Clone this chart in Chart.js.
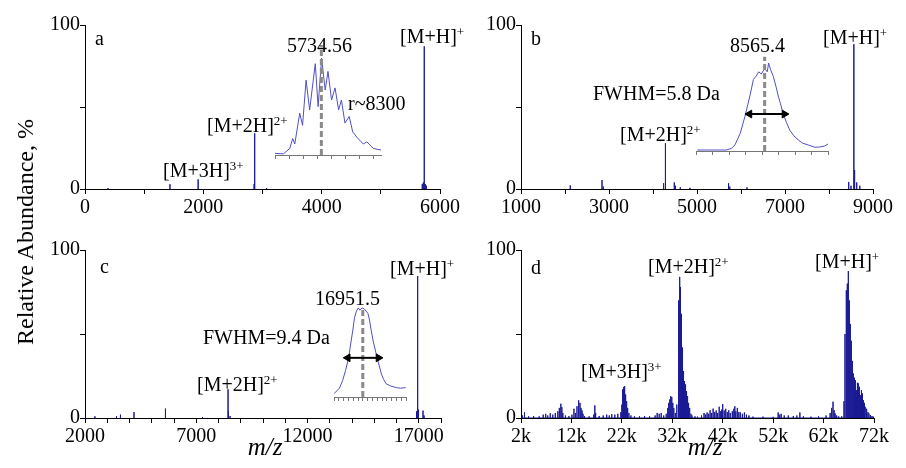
<!DOCTYPE html>
<html><head><meta charset="utf-8">
<script src="https://cdn.jsdelivr.net/npm/chart.js@4.4.0/dist/chart.umd.min.js"></script>
<style>
html,body{margin:0;padding:0;background:#fff;}
#wrap{position:relative;width:906px;height:468px;overflow:hidden;font-family:"Liberation Serif","Times New Roman",serif;color:#000;}
canvas{position:absolute;left:0;top:0;}
.t{position:absolute;font-size:20px;line-height:20px;white-space:nowrap;}
.t .sp{font-size:13px;line-height:0;vertical-align:7px;}
.ytitle{position:absolute;left:25px;top:232px;font-size:24px;line-height:24px;white-space:nowrap;transform:translate(-50%,-50%) rotate(-90deg);}
.xtitle{position:absolute;top:446px;font-size:25px;line-height:25px;font-style:italic;transform:translate(-50%,-50%);}
</style></head><body><div id="wrap"></div>
<script>
// ---------- Panel a (m/z, relative abundance) ----------
const aMz = [390, 1436, 1912, 2858, 2868, 3070, 5700, 5718, 5734, 5752, 5770];
const aAb = [0.6, 2.9, 5.9, 3, 34, 0.5, 3, 4, 87, 3, 2];
const aTicks = [0, 1000, 2000, 3000, 4000, 5000, 6000];
const aTickLabels = ['0', '', '2000', '', '4000', '', '6000'];

// ---------- Panel b ----------
const bMz = [2120, 2841, 2870, 4241, 4283, 4484, 4510, 4620, 4840, 5718, 5745, 6136, 8448, 8500, 8565, 8582, 8630, 8700];
const bAb = [2.2, 5.5, 1.5, 3.5, 27.9, 4, 2, 1, 0.7, 3.5, 1.5, 1, 4.3, 2, 88.3, 11.5, 4, 2];
const bTicks = [1000, 2000, 3000, 4000, 5000, 6000, 7000, 8000, 9000];
const bTickLabels = ['1000', '', '3000', '', '5000', '', '7000', '', '9000'];

// ---------- Panel c ----------
const cMz = [2446, 3415, 3594, 4201, 5616, 7281, 8429, 8450, 8520, 16900, 16951, 16990, 17192, 17240];
const cAb = [1, 1, 2, 3.5, 5.6, 0.6, 17.1, 4, 1.2, 4, 84.5, 5, 4.4, 1.5];
const cTicks = [2000,3000,4000,5000,6000,7000,8000,9000,10000,11000,12000,13000,14000,15000,16000,17000,18000];
const cTickLabels = ['2000','','','','','7000','','','','','12000','','','','','17000',''];

// ---------- Panel d ----------
const dMz = [
 2300,2700,3500,4500,5600,6400,6900,7300,7800,8300,
 8800,9300,9600,9900,10100,10300,10800,11500,12100,12500,
 12800,13100,13330,13500,13700,13900,14100,14300,14600,15500,
 16400,16640,16800,17500,18300,19000,19500,20000,20600,21200,
 21800,22000,22150,22350,22550,22750,22950,23150,23400,23800,
 24500,25500,26500,27500,28600,29000,29400,29800,30300,30800,
 31100,31300,31500,31700,31900,32100,32300,32600,32900,33140,
 33250,33330,33470,33570,33670,33770,33870,33970,34070,34170,
 34270,34370,34470,34570,34670,34770,34870,34970,35070,35170,
 35270,35370,35500,35700,35900,36500,37000,37800,38300,38600,
 38900,39200,39500,39800,40100,40400,40700,41000,41300,41600,
 41800,42000,42300,42600,42900,43200,43500,43900,44200,44400,
 44600,44900,45200,45500,45900,46300,46700,47200,48000,50000,
 52000,53000,53300,53600,54200,55000,56000,56700,57300,58000,
 59500,61000,62500,63300,63600,63870,64100,64300,64600,65000,
 65600,66050,66250,66450,66550,66650,66750,66850,66950,67050,
 67150,67250,67350,67450,67550,67650,67750,67850,67950,68050,
 68150,68250,68350,68450,68550,68650,68750,68850,68950,69050,
 69150,69250,69350,69450,69550,69650,69750,69850,69950,70050,
 70150,70250,70450,70600,70800,71000,71300,71600,71900];
const dAb = [
 1.5,3.4,1,1.2,1,2,2.5,1.5,2.8,2,
 3,4,6,8.5,6.5,3,1.5,1.2,2,5.5,
 3,7,10.5,8.5,9,6,4.5,2.5,1.2,1,
 2,7.5,3,1.2,1.5,2,1.5,2.3,2,2.5,
 3.5,8,17,18.5,19,14,10,6,3,1.5,
 1,1,1.2,1,1.5,3,2.5,3,1.5,2.5,
 6,9,11,13,12.5,9,6,3,8,50,
 66,70,84,78,74,62,50,42,34,28,
 24,20,22,18,20,16,16,13,12,9,
 8.3,6,4.4,2.5,1.5,1,0.8,1.5,3,2,
 3.3,2.5,4.6,3,5.6,3.5,4.5,3,6.7,4,
 5,8.3,4.5,5.5,3.5,4.6,3,4,5.5,7,
 4,6,3.5,3.3,2.5,3.3,2,1.5,0.8,0.8,
 0.7,3.3,2,2.5,1.5,1.5,1.2,1.5,3.3,1,
 0.8,1,1.5,3,6,9.7,4.7,2.7,1.5,1,
 1,10,50,76,68,72,80,87.5,78,70,
 62,56,50,46,40,34,30,26.5,20,24,
 17,18,22.5,15,16.6,21,14,20.6,13,15.6,
 18.6,12,13.6,16.6,11,12.6,14.6,9,10.6,8.6,
 9,6.7,5.5,4.7,3.5,2.7,1.7,1.2,0.8];
const dTicks = [2000, 12000, 22000, 32000, 42000, 52000, 62000, 72000];
const dTickLabels = ['2k', '12k', '22k', '32k', '42k', '52k', '62k', '72k'];

const yTicks = [0, 50, 100];
const yTickLabels = ['0', '', '100'];

// ---------- Insets (zoomed peak profiles) ----------
const insetAMz = [5728.0,5729.2,5730.1,5730.5,5730.8,5731.5,5731.9,5732.4,5732.9,5733.7,5734.1,5734.6,5735.1,5735.5,5736.0,5736.5,5737.0,5737.4,5737.9,5738.5,5739.0,5739.6,5740.5,5741.0,5741.9,5743.0];
const insetAI  = [1.5,1,6,15,10,38,27,68,41,83,44,88,59,76,50,61,41,50,29,35,21,16,10,12,6,4.5];
const insetATicks = [5728,5730,5732,5734,5736,5738,5740,5742];
const insetACentroid = 5734.56;

const insetBMz = [8555.2,8559.6,8560.4,8560.9,8561.7,8562.4,8563.2,8563.7,8564.1,8564.5,8564.9,8565.4,8565.8,8566.0,8566.3,8566.7,8567.1,8567.5,8567.8,8568.2,8568.7,8569.2,8569.8,8570.5,8571.2,8572.0,8573.0,8573.7,8574.5,8575.0];
const insetBI  = [0.9,0.9,2.5,5.5,16,31,51,65,68,72,70,75,72,80,74,68,59,49,43,34,26,19,14,10,7,5.5,3.4,3.6,4.5,6.4];
const insetBTicks = [8555,8557.5,8560,8562.5,8565,8567.5,8570,8572.5,8575];
const insetBCentroid = 8565.4;
const insetBFwhm = [8563.1, 8568.4];

const insetCMz = [16942.5,16944.2,16945.2,16946.1,16947.1,16947.8,16948.4,16948.9,16949.5,16950.1,16950.6,16951.3,16952.0,16953.1,16953.6,16954.1,16954.8,16955.7,16956.4,16957.3,16958.0,16958.8,16960.2,16961.96,16963.3,16964.9];
const insetCI  = [3,8,15,24,36,50,61,72,78,81,79,81,80,76,70,61,50,39,31,21,16,12,10,8.5,8,8.5];
const insetCTicks = [16942.5,16944,16945.5,16947,16948.5,16950,16951.5,16953,16954.5,16956,16957.5,16959,16960.5,16962,16963.5,16965];
const insetCCentroid = 16951.5;
const insetCFwhm = [16946.8, 16956.4];

// ---------- rendering ----------
const W = 906, H = 468;
const FONT = "'Liberation Serif','Times New Roman',serif";
const SPEC = '#1a1a94';
const PROF = '#5050c4';
const wrap = document.getElementById('wrap');

// each peak becomes a vertical stick; withBaseline joins sticks along y = 0
function spikes(mz, ab, withBaseline) {
  const pts = [];
  for (let i = 0; i < mz.length; i++) {
    pts.push({x: mz[i], y: 0}, {x: mz[i], y: ab[i]}, {x: mz[i], y: 0});
    if (!withBaseline) pts.push({x: mz[i], y: null});
  }
  return pts;
}
function line(xs, ys) { return xs.map((x, i) => ({x, y: ys[i]})); }
function ctx() {
  const c = document.createElement('canvas');
  c.width = W; c.height = H; c.style.width = W + 'px'; c.style.height = H + 'px';
  wrap.appendChild(c);
  return c.getContext('2d');
}

function mainPanel(area, xMin, xMax, ticks, tickLabels, mz, ab, withBaseline) {
  const YW = 40, XH = 30;
  new Chart(ctx(), {
    type: 'line',
    data: {datasets: [{data: spikes(mz, ab, withBaseline), borderColor: SPEC, borderWidth: 1, pointRadius: 0,
      tension: 0, fill: false, spanGaps: false}]},
    options: {
      responsive: false, animation: false, devicePixelRatio: 1,
      layout: {padding: {left: area.l - YW, right: W - area.r, top: area.t, bottom: H - area.b - XH}},
      plugins: {legend: {display: false}, tooltip: {enabled: false}},
      scales: {
        x: {type: 'linear', min: xMin, max: xMax,
          afterBuildTicks: s => { s.ticks = ticks.map(v => ({value: v})); },
          afterFit: s => { s.height = XH; },
          grid: {drawOnChartArea: false, drawTicks: true, tickLength: 5, color: '#000', lineWidth: 1},
          border: {display: true, color: '#000', width: 1},
          ticks: {autoSkip: false, maxRotation: 0, minRotation: 0, padding: 2, color: '#000',
                  font: {family: FONT, size: 20}, callback: (v, i) => tickLabels[i]}},
        y: {type: 'linear', min: 0, max: 100,
          afterBuildTicks: s => { s.ticks = yTicks.map(v => ({value: v})); },
          afterFit: s => { s.width = YW; },
          grid: {drawOnChartArea: false, drawTicks: true, tickLength: 5, color: '#000', lineWidth: 1},
          border: {display: true, color: '#000', width: 1},
          ticks: {padding: 0, color: '#000', font: {family: FONT, size: 20}, callback: (v, i) => yTickLabels[i]}}
      }
    }
  });
}

function insetPanel(area, xMin, xMax, ticks, mz, inten, centroid, dashTop, fwhm, fwhmY) {
  const datasets = [];
  if (fwhm) {
    datasets.push({data: [{x: fwhm[0], y: fwhmY}, {x: fwhm[1], y: fwhmY}], borderColor: '#000', backgroundColor: '#000',
      borderWidth: 2, pointStyle: 'triangle', pointRadius: 4.5, pointRotation: [-90, 90], pointBorderWidth: 1, clip: false});
  }
  datasets.push({data: [{x: centroid, y: 0}, {x: centroid, y: dashTop}], borderColor: '#8a8a8a', borderWidth: 3,
    borderDash: [6, 3], pointRadius: 0, clip: false});
  datasets.push({data: line(mz, inten), borderColor: PROF, borderWidth: 1, pointRadius: 0, tension: 0});
  new Chart(ctx(), {
    type: 'line',
    data: {datasets},
    options: {
      responsive: false, animation: false, devicePixelRatio: 1,
      layout: {padding: {left: area.l, right: W - area.r, top: area.t, bottom: H - area.b - 6}},
      plugins: {legend: {display: false}, tooltip: {enabled: false}},
      scales: {
        x: {type: 'linear', min: xMin, max: xMax,
          afterBuildTicks: s => { s.ticks = ticks.map(v => ({value: v})); },
          afterFit: s => { s.height = 6; },
          grid: {drawOnChartArea: false, drawTicks: true, tickLength: 4, color: '#777', lineWidth: 1},
          border: {display: true, color: '#777', width: 1},
          ticks: {display: false}},
        y: {display: false, min: 0, max: 100}
      }
    }
  });
}

mainPanel({l: 85, r: 440, t: 25, b: 189}, 0, 6000, aTicks, aTickLabels, aMz, aAb, false);
mainPanel({l: 521, r: 873, t: 25, b: 189}, 1000, 9000, bTicks, bTickLabels, bMz, bAb, false);
mainPanel({l: 85, r: 441, t: 250, b: 418}, 2000, 18000, cTicks, cTickLabels, cMz, cAb, false);
mainPanel({l: 521, r: 874, t: 250, b: 418}, 2000, 72000, dTicks, dTickLabels, dMz, dAb, true);

insetPanel({l: 275, r: 381, t: 45, b: 155}, 5728, 5743, insetATicks, insetAMz, insetAI, insetACentroid, 100, null, 0);
insetPanel({l: 696, r: 828, t: 41, b: 151}, 8555, 8575, insetBTicks, insetBMz, insetBI, insetBCentroid, 85.7, insetBFwhm, 33.6);
insetPanel({l: 334, r: 406, t: 287, b: 397}, 16942.5, 16965, insetCTicks, insetCMz, insetCI, insetCCentroid, 80, insetCFwhm, 35.6);

// ---------- text annotations ----------
const labels = [
  ['a', 95, 45], ['5734.56', 287, 51.7], ['r~8300', 348, 110],
  ['[M+2H]<span class="sp">2+</span>', 207, 131.5], ['[M+3H]<span class="sp">3+</span>', 163, 177],
  ['[M+H]<span class="sp">+</span>', 400, 43],
  ['b', 531, 45], ['8565.4', 730, 51.7], ['FWHM=5.8 Da', 593, 100],
  ['[M+2H]<span class="sp">2+</span>', 620, 140.5], ['[M+H]<span class="sp">+</span>', 823, 43.3],
  ['c', 100, 272.3], ['16951.5', 315, 304.7], ['FWHM=9.4 Da', 203, 344],
  ['[M+2H]<span class="sp">2+</span>', 197, 390.7], ['[M+H]<span class="sp">+</span>', 390, 274.7],
  ['d', 531, 274], ['[M+2H]<span class="sp">2+</span>', 648, 273], ['[M+H]<span class="sp">+</span>', 815, 267.3],
  ['[M+3H]<span class="sp">3+</span>', 581, 378]
];
labels.forEach(([html, x, base]) => {
  const d = document.createElement('div');
  d.className = 't'; d.innerHTML = html;
  d.style.left = x + 'px'; d.style.top = (base - 16.8) + 'px';
  wrap.appendChild(d);
});
const yt = document.createElement('div'); yt.className = 'ytitle'; yt.textContent = 'Relative Abundance, %'; wrap.appendChild(yt);
[265, 705].forEach(cx => {
  const m = document.createElement('div'); m.className = 'xtitle'; m.textContent = 'm/z';
  m.style.left = cx + 'px'; wrap.appendChild(m);
});
</script>
</body></html>
